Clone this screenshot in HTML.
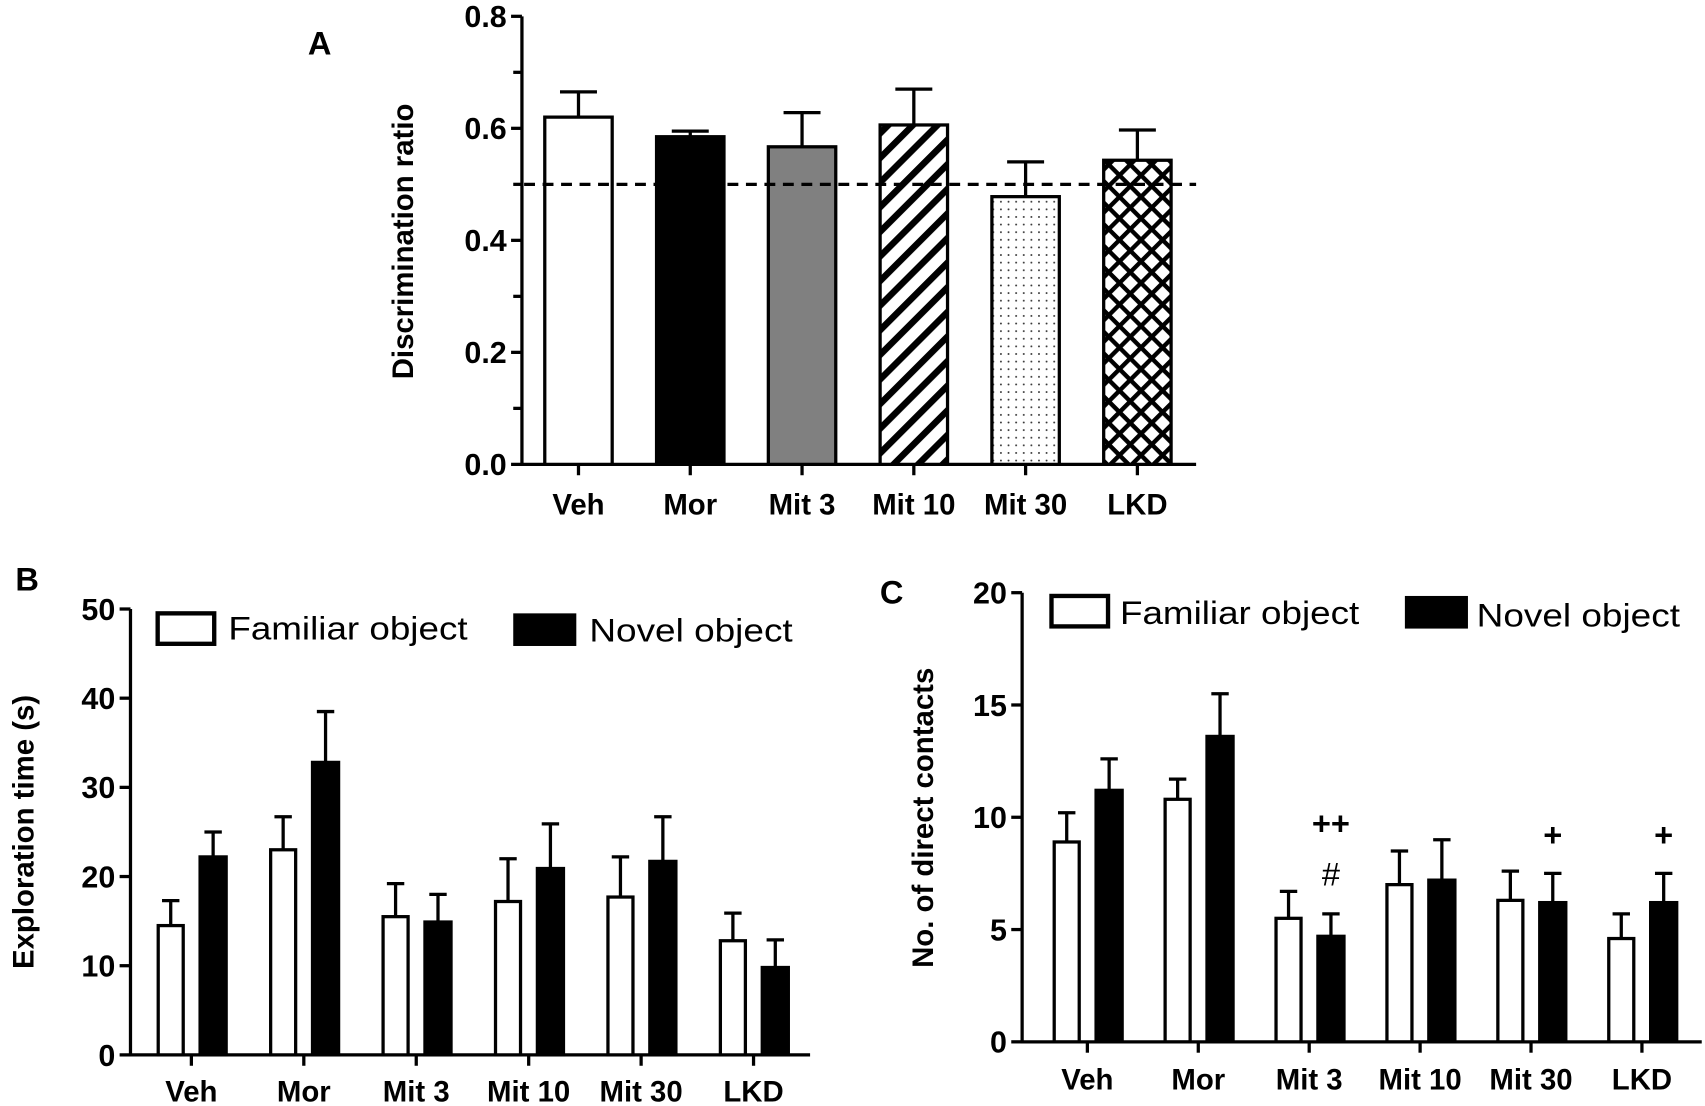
<!DOCTYPE html>
<html><head><meta charset="utf-8"><style>html,body{margin:0;padding:0;background:#fff}svg{display:block}text{font-family:"Liberation Sans",Arial,sans-serif}</style></head>
<body>
<svg id="fig" width="1705" height="1106" viewBox="0 0 1568 1017" preserveAspectRatio="none" xmlns="http://www.w3.org/2000/svg">
<defs>
<pattern id="stripes" patternUnits="userSpaceOnUse" width="16" height="16" patternTransform="rotate(45)"><rect width="16" height="16" fill="#fff"/><rect width="6" height="16" fill="#000"/></pattern>
<pattern id="dots" patternUnits="userSpaceOnUse" width="7" height="7"><rect width="7" height="7" fill="#fff"/><circle cx="3.5" cy="3.5" r="0.9" fill="#333"/></pattern>
<pattern id="cross" patternUnits="userSpaceOnUse" width="14" height="14" patternTransform="rotate(45)"><rect width="14" height="14" fill="#fff"/><rect width="14" height="4" fill="#000"/><rect width="4" height="14" fill="#000"/></pattern>
</defs>
<g id="pa"></g>
<g id="pb"></g>
<g id="pc"></g>
</svg>
<script>
const groups = ["Veh","Mor","Mit 3","Mit 10","Mit 30","LKD"];
const ratioVals = [0.62,0.585,0.567,0.606,0.478,0.543];
const ratioErr = [0.665,0.595,0.628,0.67,0.54,0.597];
const ratioTicks = [0.0,0.2,0.4,0.6,0.8];
const ratioMinor = [0.1,0.3,0.5,0.7];
const chanceLevel = 0.5;
const timeFam = [14.5,23,15.5,17.2,17.7,12.8];
const timeFamErr = [17.3,26.7,19.2,22,22.2,15.9];
const timeNov = [22.2,32.8,14.9,20.9,21.7,9.8];
const timeNovErr = [25,38.5,18,25.9,26.7,12.9];
const timeTicks = [0,10,20,30,40,50];
const contFam = [8.9,10.8,5.5,7.0,6.3,4.6];
const contFamErr = [10.2,11.7,6.7,8.5,7.6,5.7];
const contNov = [11.2,13.6,4.7,7.2,6.2,6.2];
const contNovErr = [12.6,15.5,5.7,9.0,7.5,7.5];
const contTicks = [0,5,10,15,20];
const contAnnotTop = ["","","++","","+","+"];
const contAnnotHash = ["","","#","","",""];

const NS="http://www.w3.org/2000/svg";
function mk(p,tag,attrs,txt){const e=document.createElementNS(NS,tag);for(const k in attrs)e.setAttribute(k,attrs[k]);if(txt!==undefined)e.textContent=txt;p.appendChild(e);return e;}

function axes(g,x0,x1,yScale,ticks,yLabel,lx,ly,centers,labY){
  const y0=yScale(ticks[0]),yT=yScale(ticks[ticks.length-1]);
  let e=mk(g,'line',{x1:x0,x2:x0,y1:y0+1.5,y2:yT,stroke:'#000','stroke-width':3});
  
  e=mk(g,'line',{x1:x0,x2:x1,y1:y0,y2:y0,stroke:'#000','stroke-width':3});
  
  ticks.forEach(t=>{const y=yScale(t);
    mk(g,'line',{x1:x0-10,x2:x0,y1:y,y2:y,stroke:'#000','stroke-width':3});
    e=mk(g,'text',{x:x0-14,y:y+10,'text-anchor':'end','font-size':28,'font-weight':'bold'},ticks[1]<1?t.toFixed(1):String(t));
    });
  centers.forEach((c,i)=>{mk(g,'line',{x1:c,x2:c,y1:y0,y2:y0+10,stroke:'#000','stroke-width':3});
    e=mk(g,'text',{x:c,y:labY,'text-anchor':'middle','font-size':27,'font-weight':'bold'},groups[i]);
    });
  e=mk(g,'text',{x:lx,y:ly,'text-anchor':'middle','font-size':27,'font-weight':'bold',transform:`rotate(-90 ${lx} ${ly})`},yLabel);
  
}
function bar(g,cx,w,cap,yScale,v,err,fill,name){
  const y=yScale(v),ye=yScale(err),y0=yScale(0);
  let e=mk(g,'line',{x1:cx,x2:cx,y1:y,y2:ye,stroke:'#000','stroke-width':3});
  
  mk(g,'line',{x1:cx-cap,x2:cx+cap,y1:ye,y2:ye,stroke:'#000','stroke-width':3});
  e=mk(g,'rect',{x:cx-w/2,y:y,width:w,height:y0-y,fill:fill,stroke:'#000','stroke-width':3});
  
}

// Panel A
(function(){const g=document.getElementById('pa');
const ys=v=>427-(v/0.8)*412;const xc=i=>532+i*102.8;
const centers=groups.map((_,i)=>xc(i));
axes(g,480,1100,ys,ratioTicks,'Discrimination ratio',380,222,centers,473);
ratioMinor.forEach(t=>mk(g,'line',{x1:472,x2:480,y1:ys(t),y2:ys(t),stroke:'#000','stroke-width':3}));
const fills=['#fff','#000','#808080','url(#stripes)','url(#dots)','url(#cross)'];
ratioVals.forEach((v,i)=>bar(g,xc(i),62,17,ys,v,ratioErr[i],fills[i],'bar-'+groups[i].toLowerCase().replace(' ','-')));
let e=mk(g,'line',{x1:482,x2:1100,y1:ys(chanceLevel),y2:ys(chanceLevel),stroke:'#000','stroke-width':3,'stroke-dasharray':'10,7'});

e=mk(g,'text',{x:294,y:50,'text-anchor':'middle','font-size':30,'font-weight':'bold'},'A');
})();

function grouped(g,x0,x1,ys,ticks,yLabel,lx,ly,c0,step,fam,famE,nov,novE,labY,prefix){
  const centers=groups.map((_,i)=>c0+i*step);
  axes(g,x0,x1,ys,ticks,yLabel,lx,ly,centers,labY);
  fam.forEach((v,i)=>bar(g,centers[i]-19,23,8,ys,v,famE[i],'#fff',prefix+'-familiar-'+i));
  nov.forEach((v,i)=>bar(g,centers[i]+20,24,8,ys,nov[i],novE[i],'#000',prefix+'-novel-'+i));
  return centers;
}
function legend(g,bx,by,tx,bx2,tx2,ty){
  let e=mk(g,'rect',{x:bx,y:by,width:52,height:28,fill:'#fff',stroke:'#000','stroke-width':4});
  
  e=mk(g,'text',{x:tx,y:ty,'font-size':30,textLength:220,lengthAdjust:'spacingAndGlyphs'},'Familiar object');
  
  e=mk(g,'rect',{x:bx2,y:by,width:58,height:30,fill:'#000'});
  
  e=mk(g,'text',{x:tx2,y:ty+2,'font-size':30,textLength:187,lengthAdjust:'spacingAndGlyphs'},'Novel object');
  
}
// Panel B
(function(){const g=document.getElementById('pb');
const ys=v=>970-(v/50)*410;
grouped(g,120,745,ys,timeTicks,'Exploration time (s)',31,765,176,103.4,timeFam,timeFamErr,timeNov,timeNovErr,1013,'b');
legend(g,145,564,210,472,542,588);
let e=mk(g,'text',{x:25,y:543,'text-anchor':'middle','font-size':30,'font-weight':'bold'},'B');
})();
// Panel C
(function(){const g=document.getElementById('pc');
const ys=v=>958-(v/20)*413;
const c=grouped(g,940,1565,ys,contTicks,'No. of direct contacts',858,752,1000,102,contFam,contFamErr,contNov,contNovErr,1002,'c');
contAnnotTop.forEach((a,i)=>{
 const cap=ys(contNovErr[i]);const hasHash=!!contAnnotHash[i];
 if(hasHash){let e=mk(g,'text',{x:c[i]+20,y:cap-26,'text-anchor':'middle','font-size':30},contAnnotHash[i]);
  }
 if(a){let e=mk(g,'text',{x:c[i]+20,y:cap-(hasHash?73:25),'text-anchor':'middle','font-size':30,'font-weight':'bold'},a);
  }});
legend(g,967,548,1030,1292,1358,574);
let e=mk(g,'text',{x:820,y:555,'text-anchor':'middle','font-size':30,'font-weight':'bold'},'C');
})();
</script>
</body></html>
